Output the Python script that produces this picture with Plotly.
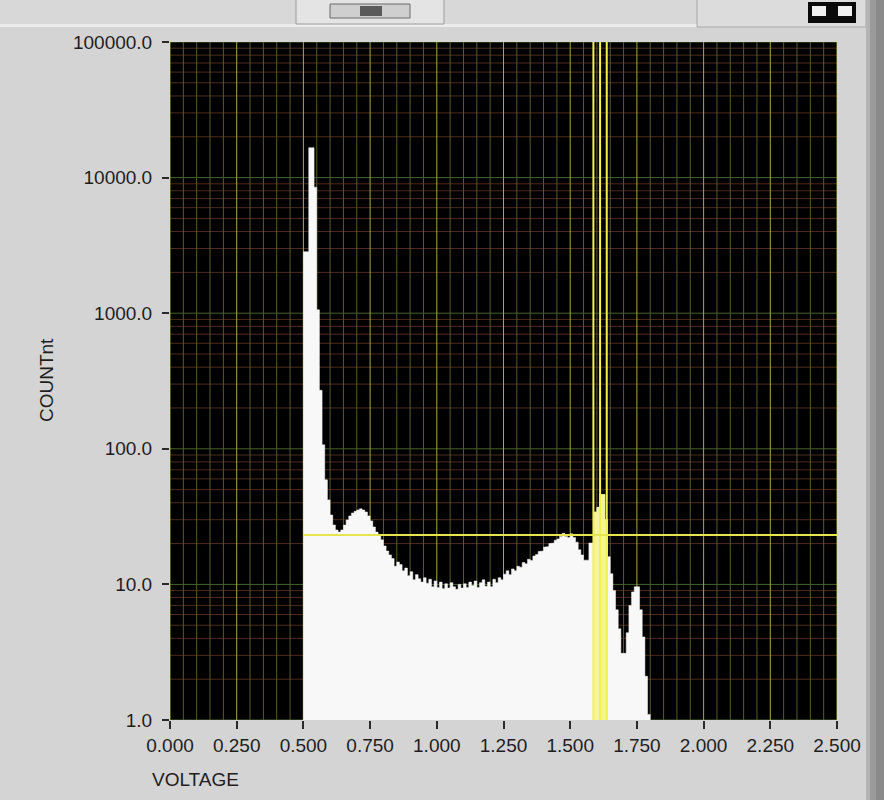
import plotly.graph_objects as go
import numpy as np

# ---------------- data ----------------
bin_start = 0.50
bin_width = 0.01
counts = [
    # 0.50-0.59
    2840, 2840, 16600, 16600, 8500, 1060, 270, 107, 59, 42,
    # 0.60-0.69
    32.5, 27.4, 25.2, 24.3, 25.2, 27.4, 29.9, 32.0, 33.6, 34.6,
    # 0.70-0.79
    35.4, 36.1, 35.4, 34.2, 32.0, 29.4, 26.5, 24.3, 22.7, 21.3,
    # 0.80-0.89
    19.2, 17.6, 16.5, 15.5, 13.6, 14.6, 14.0, 12.6, 13.2, 11.6,
    # 0.90-0.99
    12.4, 10.8, 11.8, 11.0, 10.4, 11.2, 10.2, 10.9, 9.6, 10.6,
    # 1.00-1.09
    9.5, 10.4, 9.3, 10.1, 9.4, 10.3, 9.6, 9.2, 10.0, 9.4,
    # 1.10-1.19
    10.1, 9.5, 10.4, 9.8, 10.6, 9.5, 10.3, 10.8, 9.7, 10.4,
    # 1.20-1.29
    9.6, 10.9, 10.3, 11.2, 10.8, 11.9, 12.6, 11.8, 13.0, 12.6,
    # 1.30-1.39
    13.6, 13.4, 14.5, 14.2, 15.3, 15.0, 16.2, 16.6, 17.5, 17.6,
    # 1.40-1.49
    18.8, 19.0, 20.0, 20.2, 21.2, 21.6, 22.6, 23.8, 22.6, 22.2,
    # 1.50-1.59
    23.6, 22.2, 20.5, 18.0, 16.5, 15.1, 15.1, 20.2, 20.2, 34.2,
    # 1.60-1.69
    37.0, 46.0, 46.0, 30.0, 16.0, 12.0, 9.0, 6.5, 4.7, 3.1,
    # 1.70-1.79
    3.1, 4.4, 7.0, 8.8, 9.6, 9.6, 6.5, 4.1, 2.1, 1.1,
]
highlight_range = [1.585, 1.635]      # bins drawn in cursor colour
cursor_v = [1.587, 1.612, 1.637]      # vertical cursors (VOLTAGE)
cursor_count = 23.1                   # horizontal cursor (COUNT)

x_tick_vals = [0.0, 0.25, 0.5, 0.75, 1.0, 1.25, 1.5, 1.75, 2.0, 2.25, 2.5]
x_tick_text = ["0.000", "0.250", "0.500", "0.750", "1.000", "1.250",
               "1.500", "1.750", "2.000", "2.250", "2.500"]
y_tick_vals = [1, 10, 100, 1000, 10000, 100000]
y_tick_text = ["1.0", "10.0", "100.0", "1000.0", "10000.0", "100000.0"]

x_range = [0.0, 2.5]
y_range_log = [0, 5]

# ---------------- layout geometry ----------------
W, H = 884, 800
L, R, T, B = 170, 837, 42, 720


def px(xp):
    return (xp - L) / (R - L)


def py(yp):
    return (B - yp) / (B - T)


FLOOR = 0.3  # below the visible axis minimum


def step_polygon(edges, vals):
    xs, ys = [edges[0]], [FLOOR]
    for i, v in enumerate(vals):
        xs += [edges[i], edges[i + 1]]
        ys += [v, v]
    xs.append(edges[-1])
    ys.append(FLOOR)
    return xs, ys


counts_arr = np.array(counts, dtype=float)
edges = bin_start + bin_width * np.arange(len(counts_arr) + 1)

fig = go.Figure()

# ---------------- grid (drawn as lines in data space) ----------------
def vlines(vals):
    xs, ys = [], []
    for v in vals:
        xs += [v, v, None]
        ys += [10 ** y_range_log[0], 10 ** y_range_log[1], None]
    return xs, ys


def hlines(vals):
    xs, ys = [], []
    for v in vals:
        xs += [x_range[0], x_range[1], None]
        ys += [v, v, None]
    return xs, ys


minor_x = [round(k * 0.05, 4) for k in range(0, 51) if k % 5 != 0]
major_x = x_tick_vals
minor_y = [m * 10 ** d for d in range(0, 5) for m in range(2, 10)]
major_y = y_tick_vals

for (xs, ys), col in [
    (hlines(minor_y), "#4e2c1c"),
    (vlines(minor_x), "#5a5a30"),
    (hlines(major_y), "#46622c"),
    (vlines(major_x), "#a8a842"),
]:
    fig.add_trace(go.Scatter(x=xs, y=ys, mode="lines",
                             line=dict(color=col, width=1),
                             hoverinfo="skip", showlegend=False))

# ---------------- histogram ----------------
hx, hy = step_polygon(edges, counts_arr)
fig.add_trace(go.Scatter(x=hx, y=hy, mode="lines", fill="toself",
                         fillcolor="#f8f8f8", line=dict(color="#f8f8f8", width=0.5),
                         hoverinfo="skip", showlegend=False))

mask = (edges[:-1] >= highlight_range[0]) & (edges[:-1] < highlight_range[1])
idx = np.where(mask)[0]
sx, sy = step_polygon(edges[idx[0]:idx[-1] + 2], counts_arr[idx])
fig.add_trace(go.Scatter(x=sx, y=sy, mode="lines", fill="toself",
                         fillcolor="#f4f49a", line=dict(color="#f4f49a", width=0.5),
                         hoverinfo="skip", showlegend=False))

# ---------------- cursors ----------------
cx, cy = vlines(cursor_v)
fig.add_trace(go.Scatter(x=cx, y=cy, mode="lines",
                         line=dict(color="#f2f24a", width=2),
                         hoverinfo="skip", showlegend=False))
fig.add_trace(go.Scatter(x=[edges[0], x_range[1]], y=[cursor_count, cursor_count],
                         mode="lines", line=dict(color="#e6e64c", width=2),
                         hoverinfo="skip", showlegend=False))

font_family = "Liberation Sans, Arial, sans-serif"
txt_col = "#1e1e1e"

fig.update_layout(
    width=W, height=H,
    margin=dict(l=L, r=W - R, t=T, b=H - B, pad=0),
    paper_bgcolor="#d4d4d4",
    plot_bgcolor="#000000",
    showlegend=False,
    font=dict(family=font_family, size=19, color=txt_col),
    xaxis=dict(
        range=x_range, tickmode="array", tickvals=x_tick_vals, ticktext=x_tick_text,
        showgrid=False, zeroline=False, showline=False,
        ticks="outside", ticklen=8, tickwidth=1.5, tickcolor="#2a2a2a",
        tickfont=dict(size=19, color=txt_col, family=font_family),
        fixedrange=True,
    ),
    yaxis=dict(
        type="log", range=y_range_log, tickmode="array",
        tickvals=y_tick_vals, ticktext=y_tick_text,
        showgrid=False, zeroline=False, showline=False,
        ticks="outside", ticklen=7, tickwidth=1.5, tickcolor="#2a2a2a",
        ticklabelstandoff=6,
        tickfont=dict(size=19, color=txt_col, family=font_family),
        fixedrange=True,
    ),
)

# axis titles
fig.add_annotation(text="VOLTAGE", xref="paper", yref="paper",
                   x=px(150), y=py(780), xanchor="left", yanchor="middle",
                   showarrow=False, font=dict(size=19, color=txt_col, family=font_family))
fig.add_annotation(text="COUNTnt", xref="paper", yref="paper",
                   x=px(46), y=py(380), xanchor="center", yanchor="middle",
                   textangle=-90, showarrow=False,
                   font=dict(size=19, color=txt_col, family=font_family))

# panel decorations (front-panel chrome around the graph)
def rect(x0, y0, x1, y1, fill, line=None, lw=1):
    fig.add_shape(type="rect", xref="paper", yref="paper",
                  x0=px(x0), x1=px(x1), y0=py(y1), y1=py(y0),
                  fillcolor=fill, line=dict(color=line or fill, width=lw if line else 0),
                  layer="above")

rect(0, 0, 884, 24, "#d8d8d8")
rect(0, 24, 884, 27, "#ececec")
rect(296, -3, 444, 24, "#e4e4e4", "#9c9c9c", 1)
rect(330, 4, 410, 18, "#cfcfcf", "#6a6a6a", 1)
rect(360, 6, 382, 16, "#5a5a5a")
rect(697, -3, 866, 27, "#dcdcdc", "#a8a8a8", 1)
rect(808, 2, 856, 23, "#0a0a0a")
rect(812, 6, 826, 16, "#f0f0f0")
rect(838, 6, 852, 16, "#f0f0f0")
rect(866, 0, 884, 800, "#b4b4b4")
rect(870, 0, 884, 800, "#9a9a9a")
rect(876, 0, 884, 800, "#8a8a8a")

fig.write_html("out.html")
